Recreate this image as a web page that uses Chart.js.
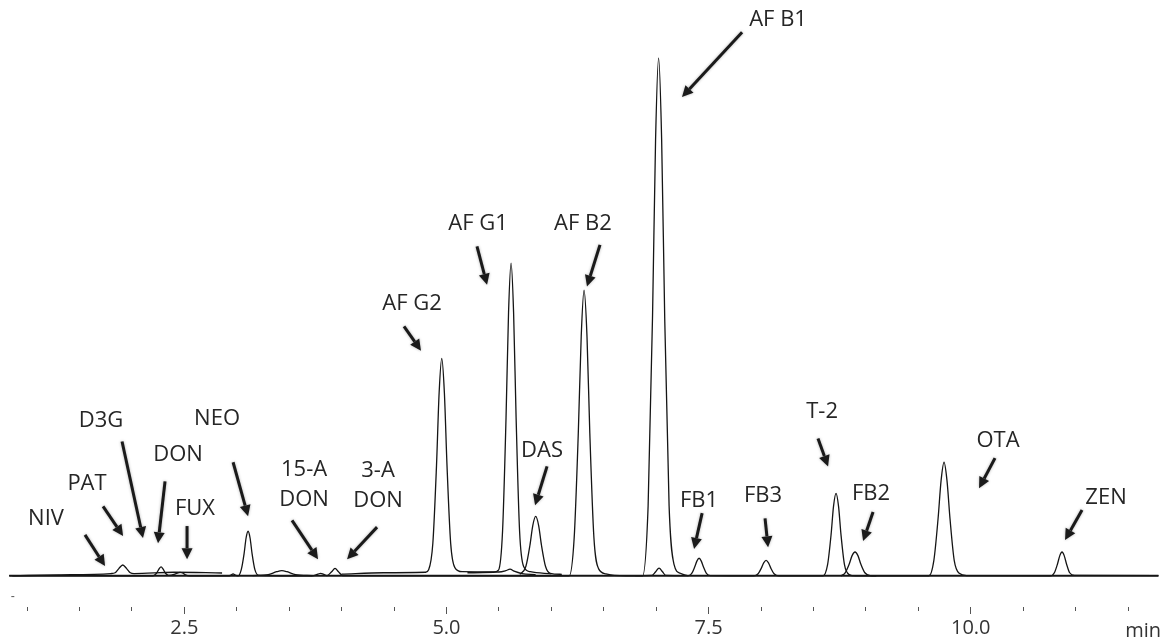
<!DOCTYPE html>
<html>
<head>
<meta charset="utf-8">
<script src="https://cdn.jsdelivr.net/npm/chart.js@4.4.1/dist/chart.umd.min.js"></script>
<style>
body{margin:0;background:#fff;}
#wrap{width:1162px;height:642px;position:relative;}
</style>
</head>
<body>
<div id="wrap"><canvas id="chromChart"></canvas></div>
<script>
/* traces: [time (min), signal (% of AF B1)] */

let blankTrace = [[0.83,0],[11.79,0]];

let mainTrace = [
    [0.83,0.05],[1.5,0.05],[2.2,0],
    [2.235,0.5],[2.258,1.3],[2.278,1.75],[2.298,1.3],[2.32,0.5],[2.35,0.1],
    [2.41,0.35],[2.44,0.6],[2.459,0.67],[2.478,0.6],[2.51,0.2],[2.55,0],
    [2.92,0],[2.945,0.15],[2.965,0.4],[2.985,0.15],
    [3.013,0],[3.043,1.2],[3.07,4.3],[3.089,7.3],[3.108,8.6],[3.127,7.3],[3.146,4.3],[3.173,1.2],[3.21,0.1],
    [3.72,0],[3.775,0.35],[3.8,0.5],[3.825,0.35],[3.86,0.05],
    [3.905,0.8],[3.937,1.45],[3.97,0.8],[4.01,0.05],
    [6.17,0],[6.218,7.4],[6.257,27.5],[6.285,46.2],[6.312,55.05],[6.34,46.2],[6.367,27.5],[6.406,7.4],[6.45,1.4],[6.52,0.4],[6.6,0.1],
    [6.87,0],[6.923,13.5],[6.965,50],[6.994,84],[7.023,99.8],[7.052,84],[7.081,50],[7.123,13.5],[7.17,2.2],[7.23,0.5],[7.28,0.15],
    [7.31,0.05],[7.339,0.46],[7.367,1.7],[7.388,2.85],[7.409,3.4],[7.43,2.85],[7.451,1.7],[7.479,0.46],[7.515,0.05],
    [7.93,0],[7.972,0.4],[8.003,1.5],[8.025,2.5],[8.048,3.0],[8.071,2.5],[8.093,1.5],[8.124,0.4],[8.17,0],
    [8.59,0],[8.634,2.1],[8.668,8.0],[8.691,13.4],[8.715,15.9],[8.739,13.4],[8.762,8.0],[8.796,2.1],[8.84,0.25],[8.9,0],
    [9.6,0],[9.648,3.0],[9.688,11.0],[9.717,18.4],[9.745,21.9],[9.773,18.4],[9.802,11.0],[9.842,3.0],[9.89,0.5],[9.96,0.05],
    [10.76,0],[10.797,0.6],[10.827,2.3],[10.849,3.9],[10.87,4.6],[10.891,3.9],[10.913,2.3],[10.943,0.6],[10.99,0.1],[11.79,0.05]
];

let patTrace = [
    [0.86,0],[1.3,0.2],[1.8,0.45],[1.84,0.6],[1.875,1.4],[1.913,2.1],[1.95,1.4],
    [1.985,0.6],[2.02,0.45],[2.4,0.7],[2.86,0.55]
];

let humpTrace = [
    [3.15,0.05],[3.3,0.25],[3.38,0.8],[3.43,1.0],[3.48,0.8],[3.56,0.25],[3.72,0.05]
];

let afg2Trace = [
    [4.0,0.35],[4.4,0.6],[4.8,0.7],[4.83,1.2],[4.87,6.3],[4.905,21.3],[4.93,35.3],[4.955,41.9],
    [4.98,35.3],[5.005,21.3],[5.04,6.3],[5.08,1.6],[5.15,0.8],[5.5,0.75],
    [5.565,1.0],[5.606,1.3],[5.645,0.9],[5.72,0.45],[5.85,0.25]
];

let afg1Trace = [
    [5.2,0.6],[5.45,0.7],[5.496,1.1],[5.535,8.7],[5.568,30.5],[5.592,50.8],[5.616,60.3],
    [5.64,50.8],[5.664,30.5],[5.697,8.7],[5.736,1.8],[5.8,0.8],[6.0,0.4]
];

let dasTrace = [
    [5.7,0.3],[5.757,1.8],[5.796,5.9],[5.823,9.7],[5.851,11.45],[5.879,9.7],[5.906,5.9],
    [5.945,1.8],[5.99,0.5],[6.1,0.3]
];

let smallTrace = [
    [6.8,0.05],[6.96,0.1],[6.995,0.8],[7.027,1.5],[7.06,0.8],[7.09,0.1],[7.3,0.05]
];

let fb2Trace = [
    [8.76,0],[8.802,0.6],[8.841,2.3],[8.868,3.9],[8.896,4.6],[8.924,3.9],[8.951,2.3],
    [8.99,0.6],[9.04,0.05],[9.1,0]
];


/* AXIS */

let tickValues = [1,1.5,2,2.5,3,3.5,4,4.5,5,5.5,6,6.5,7,7.5,8,8.5,9,9.5,10,10.5,11,11.5];
let majorTicks = [2.5,5,7.5,10];
let unitLabel = "min";
let unitPos = 11.643;


/* PEAK NAMES AND ARROWS (time, signal) */

let peakNames = ["NIV","PAT","D3G","DON","FUX","NEO","15-A\nDON","3-A\nDON","AF G2","AF G1",
    "DAS","AF B2","AF B1","FB1","FB3","T-2","FB2","OTA","ZEN"];
let nameTime  = [1.181,1.572,1.706,2.440,2.602,2.812,3.642,4.347,4.672,5.301,
    5.911,6.302,8.162,7.409,8.019,8.582,9.049,10.260,11.290];
let nameLevel = [11.3,18.1,30.2,23.6,13.2,30.6,17.9,17.7,52.7,68.3,
    24.4,68.3,107.5,14.8,15.7,31.9,16.1,26.3,15.4];

let arrowFromT = [1.553,1.725,1.906,2.316,2.526,2.965,3.527,4.338,4.595,5.291,
    5.959,6.464,7.819,7.438,8.038,8.543,9.068,10.231,11.061];
let arrowFromV = [7.9,13.4,25.9,18.2,9.6,21.9,10.7,9.4,48.1,63.5,
    21.1,63.8,104.8,12.1,11.1,26.5,12.3,22.7,12.7];
let arrowToT = [1.744,1.916,2.106,2.249,2.526,3.108,3.775,4.052,4.757,5.387,
    5.845,6.340,7.246,7.361,8.067,8.639,8.973,10.079,10.899];
let arrowToV = [1.9,7.7,7.3,6.3,3.2,11.5,3.2,3.2,43.4,56.1,
    13.6,55.8,92.3,5.2,5.5,21.1,6.7,16.9,6.9];


/* ANNOTATION PLUGIN */

function drawArrow(ctx, x0, y0, x1, y1)
{
    let ang = Math.atan2(y1-y0, x1-x0);
    let head = 11, half = 5.5;
    let bx = x1 - Math.cos(ang)*head;
    let by = y1 - Math.sin(ang)*head;
    ctx.beginPath();
    ctx.moveTo(x0, y0);
    ctx.lineTo(bx, by);
    ctx.stroke();
    ctx.beginPath();
    ctx.moveTo(x1, y1);
    ctx.lineTo(bx + Math.sin(ang)*half, by - Math.cos(ang)*half);
    ctx.lineTo(bx - Math.sin(ang)*half, by + Math.cos(ang)*half);
    ctx.closePath();
    ctx.fill();
}

const peakLabels = {
    id: "peakLabels",
    afterDatasetsDraw(chart)
    {
        let ctx = chart.ctx;
        let x = chart.scales.x, y = chart.scales.y;
        ctx.save();

        ctx.strokeStyle = "#1a1a1a";
        ctx.fillStyle = "#1a1a1a";
        ctx.lineWidth = 3;
        ctx.lineCap = "butt";
        ctx.shadowColor = "rgba(0,0,0,0.3)";
        ctx.shadowBlur = 3;
        for (let i = 0; i < peakNames.length; i++) {
            drawArrow(ctx,
                x.getPixelForValue(arrowFromT[i]), y.getPixelForValue(arrowFromV[i]),
                x.getPixelForValue(arrowToT[i]), y.getPixelForValue(arrowToV[i]));
        }
        ctx.shadowBlur = 0;
        ctx.shadowColor = "rgba(0,0,0,0)";

        ctx.font = '22px "Open Sans"';
        ctx.fillStyle = "#262626";
        ctx.textAlign = "center";
        ctx.textBaseline = "alphabetic";
        for (let i = 0; i < peakNames.length; i++) {
            let lines = peakNames[i].split("\n");
            let px = x.getPixelForValue(nameTime[i]);
            let py = y.getPixelForValue(nameLevel[i]);
            lines.forEach((ln, k) => {
                ctx.fillText(ln, px, py + 8 + (k - (lines.length-1)/2)*30);
            });
        }

        // unit label, level with the tick labels
        ctx.font = '20px "Open Sans"';
        ctx.fillStyle = "#333";
        ctx.textBaseline = "top";
        ctx.fillText(unitLabel, x.getPixelForValue(unitPos), x.top + 14);

        // stray y-axis mark at lower left
        ctx.fillStyle = "#555";
        ctx.fillRect(x.getPixelForValue(0.85), y.getPixelForValue(-3.9), 3, 1);
        ctx.restore();
    }
};


/* CHART */

function traceSet(points, width)
{
    return {
        data: points.map(p => ({x: p[0], y: p[1]})),
        borderColor: "#151515",
        borderWidth: width,
        pointRadius: 0,
        fill: false,
        cubicInterpolationMode: "monotone"
    };
}

function buildChart()
{
    new Chart(document.getElementById("chromChart"), {
        type: "line",
        data: {
            datasets: [
                traceSet(blankTrace, 2),
                traceSet(patTrace, 1.3),
                traceSet(humpTrace, 1.3),
                traceSet(afg2Trace, 1.3),
                traceSet(afg1Trace, 1.3),
                traceSet(dasTrace, 1.3),
                traceSet(smallTrace, 1.3),
                traceSet(fb2Trace, 1.3),
                traceSet(mainTrace, 1.3)
            ]
        },
        options: {
            responsive: true,
            maintainAspectRatio: false,
            animation: false,
            layout: {padding: {left: 9, right: 3, top: 0, bottom: 0}},
            plugins: {
                legend: {display: false},
                tooltip: {enabled: false}
            },
            scales: {
                x: {
                    type: "linear",
                    min: 0.828,
                    max: 11.795,
                    afterBuildTicks: s => {
                        s.ticks = tickValues.map(v => ({value: v}));
                    },
                    border: {display: false},
                    grid: {
                        drawOnChartArea: false,
                        drawTicks: true,
                        tickLength: 7,
                        lineWidth: 1,
                        color: "#555",
                        tickBorderDash: c => (c.tick && majorTicks.includes(c.tick.value)) ? [] : [4, 20]
                    },
                    ticks: {
                        autoSkip: false,
                        maxRotation: 0,
                        padding: 12,
                        color: "#333",
                        font: {family: "Open Sans", size: 20, lineHeight: 0.2},
                        callback: v => majorTicks.includes(v) ? v.toFixed(1) : ""
                    }
                },
                y: {
                    display: false,
                    min: -6,
                    max: 111
                }
            }
        },
        plugins: [peakLabels]
    });
}

document.fonts.load('22px "Open Sans"').then(buildChart, buildChart);
</script>
</body>
</html>
